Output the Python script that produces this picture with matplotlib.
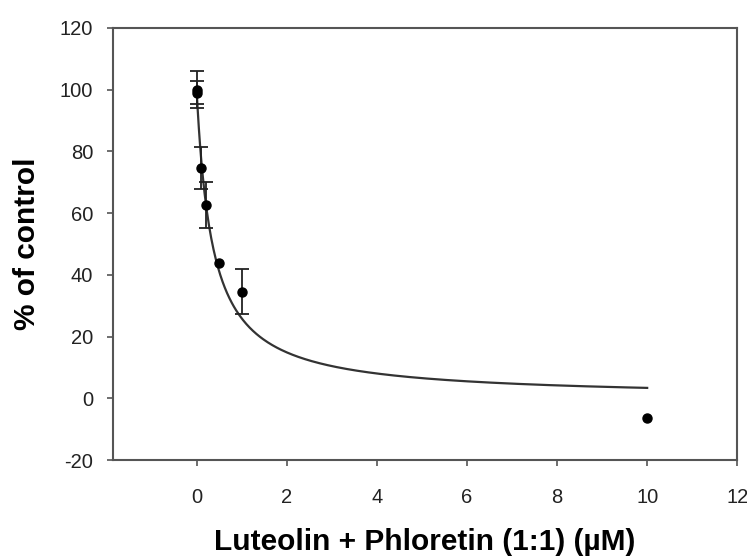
import numpy as np
import matplotlib
matplotlib.use("Agg")
import matplotlib.pyplot as plt

# measured points (conc in uM, % of control, SD)
conc = [0.0, 0.01, 0.1, 0.2, 0.5, 1.0, 10.0]
pct = [100.0, 99.0, 74.6, 62.6, 43.8, 34.6, -6.5]
sd = [6.0, 3.7, 6.8, 7.4, 0.0, 7.3, 0.0]

# fitted dose-response curve parameters
fit_top = 100.0
fit_ic50 = 0.35
fit_hill = 1.0

plt.rcParams['font.family'] = ['Liberation Sans', 'DejaVu Sans']
plt.rcParams['axes.unicode_minus'] = False

fig = plt.figure(figsize=(7.47, 5.59), dpi=100)
ax = fig.add_axes([0.151, 0.177, 0.836, 0.773])

xfit = np.linspace(0, 10, 400)
yfit = fit_top / (1 + (xfit / fit_ic50) ** fit_hill)
ax.plot(xfit, yfit, color='#333333', lw=1.6, zorder=2)

# error bars only where an SD was drawn
xe = [c for c, s in zip(conc, sd) if s > 0]
ye = [p for p, s in zip(pct, sd) if s > 0]
se = [s for s in sd if s > 0]
ax.errorbar(xe, ye, yerr=se, fmt='none', ecolor='#222222',
            elinewidth=1.3, capsize=5, capthick=1.3, zorder=3)
ax.plot(conc, pct, 'o', color='black', ms=6.5, zorder=4)

ax.set_xlim(-1.86, 12)
ax.set_ylim(-20, 120)
ax.set_xticks([0, 2, 4, 6, 8, 10, 12])
ax.set_yticks([-20, 0, 20, 40, 60, 80, 100, 120])

for s in ax.spines.values():
    s.set_color('#555555')
    s.set_linewidth(1.5)
ax.tick_params(direction='out', length=4, width=1.2, color='#555555',
               labelsize=14.5, labelcolor='#222222')
ax.tick_params(axis='x', pad=16)
ax.tick_params(axis='y', pad=10)

ax.set_xlabel('Luteolin + Phloretin (1:1) (\u00b5M)', fontsize=21.5, fontweight='bold', labelpad=15)
ax.set_ylabel('% of control', fontsize=21.5, fontweight='bold', labelpad=14)

fig.savefig('out.png', dpi=100)
